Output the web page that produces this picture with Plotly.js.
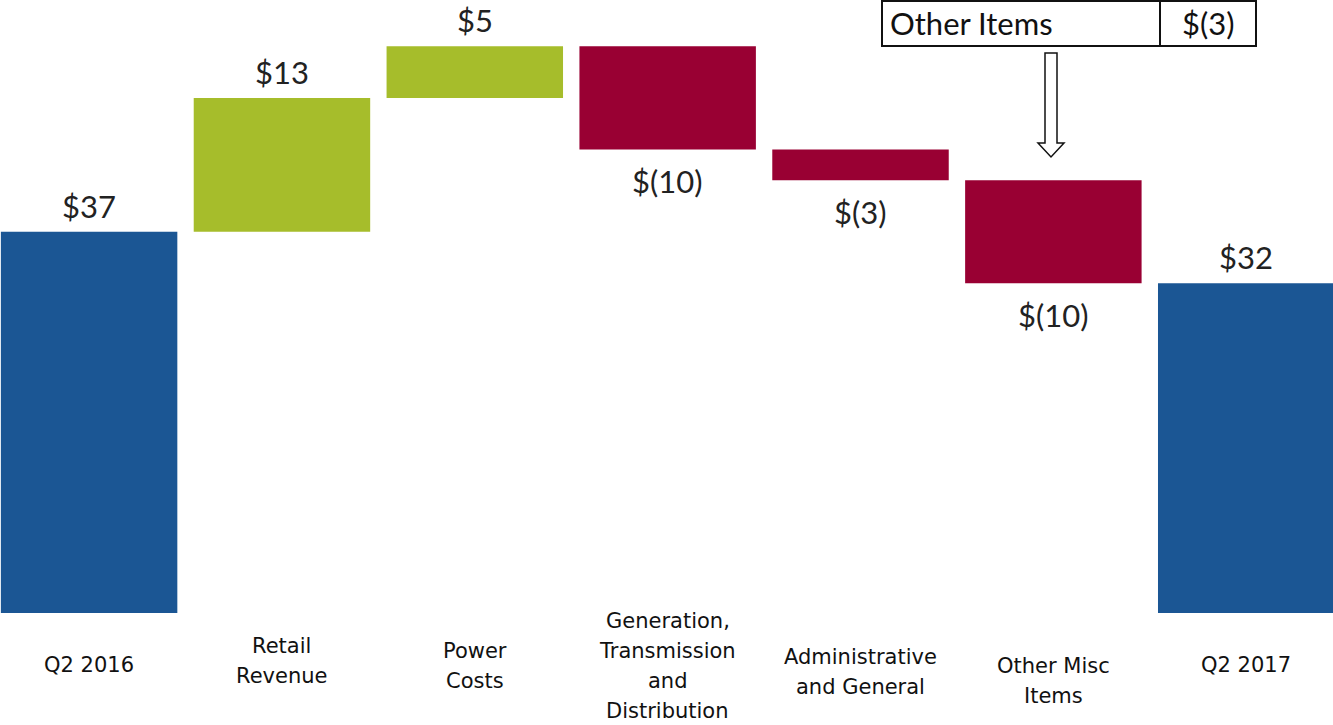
<!DOCTYPE html>
<html>
<head>
<meta charset="utf-8">
<script src="https://cdn.plot.ly/plotly-3.0.1.min.js"></script>
<style>html,body{margin:0;padding:0;background:#fff;}#chart{width:1333px;height:725px;}</style>
</head>
<body>
<div id="chart"></div>
<script>
// ---- data ----
const categories = ["Q2 2016", "Retail Revenue", "Power Costs", "Generation, Transmission and Distribution", "Administrative and General", "Other Misc Items", "Q2 2017"];
const tickLabels = ["Q2 2016", "Retail<br>Revenue", "Power<br>Costs", "Generation,<br>Transmission<br>and<br>Distribution", "Administrative<br>and General", "Other Misc<br>Items", "Q2 2017"];
const measures = ["absolute", "relative", "relative", "relative", "relative", "relative", "total"];
const values = [37, 13, 5, -10, -3, -10, 32];
const valueLabels = ["$37", "$13", "$5", "$(10)", "$(3)", "$(10)", "$32"];
const calloutLabel = "Other Items";
const calloutValue = "$(3)";

// ---- style ----
const W = 1333, H = 725;
const BLUE = "#1b5694", GREEN = "#a6bd2b", RED = "#990033";
const valueFont = {family: "Lato, 'Open Sans', sans-serif", size: 31, color: "#222"};
const catFont = {family: "'DejaVu Sans', Verdana, sans-serif", size: 21, color: "#111"};
const boxFont = {family: "Lato, 'Open Sans', sans-serif", size: 31, color: "#111"};
const labelCentersPx = [665, 661, 666, 666, 672, 681, 665];
const lineStepPx = 30;
const px = x => x / W;
const py = y => 1 - y / H;

// cumulative ends from data
let run = 0;
const ends = values.map((v, i) => {
  if (measures[i] === "absolute") run = v;
  else if (measures[i] === "relative") run += v;
  return run;
});

const trace = {
  type: "waterfall",
  x: categories,
  y: values,
  measure: measures,
  textinfo: "none",
  hoverinfo: "none",
  connector: {visible: false},
  increasing: {marker: {color: GREEN}},
  decreasing: {marker: {color: RED}},
  totals: {marker: {color: BLUE}},
};

const annotations = [];
categories.forEach((c, i) => {
  const neg = measures[i] === "relative" && values[i] < 0;
  annotations.push({
    x: c, y: ends[i], xref: "x", yref: "y",
    text: valueLabels[i], showarrow: false,
    yanchor: "middle", yshift: neg ? -32 : 26,
    font: valueFont
  });
  const lines = tickLabels[i].split("<br>");
  lines.forEach((ln, k) => {
    const cy = labelCentersPx[i] + (k - (lines.length - 1) / 2) * lineStepPx;
    annotations.push({
      x: c, y: py(cy), xref: "x", yref: "paper",
      text: ln, showarrow: false,
      yanchor: "middle", font: catFont
    });
  });
});
annotations.push({
  x: px(888), y: py(23), xref: "paper", yref: "paper", xanchor: "left", yanchor: "middle",
  text: calloutLabel, showarrow: false, font: boxFont
});
annotations.push({
  x: px(1208), y: py(23), xref: "paper", yref: "paper", xanchor: "center", yanchor: "middle",
  text: calloutValue, showarrow: false, font: boxFont
});

const arrowPath = "M" + px(1045) + "," + py(53) +
  " L" + px(1057) + "," + py(53) +
  " L" + px(1057) + "," + py(143) +
  " L" + px(1064) + "," + py(143) +
  " L" + px(1051) + "," + py(157) +
  " L" + px(1038) + "," + py(143) +
  " L" + px(1045) + "," + py(143) + " Z";

const shapes = [
  {type: "rect", xref: "paper", yref: "paper", x0: px(882), x1: px(1256), y0: py(46), y1: py(1),
   line: {color: "#111", width: 2}, fillcolor: "rgba(0,0,0,0)"},
  {type: "line", xref: "paper", yref: "paper", x0: px(1160), x1: px(1160), y0: py(46), y1: py(1),
   line: {color: "#111", width: 2}},
  {type: "path", xref: "paper", yref: "paper", path: arrowPath,
   line: {color: "#111", width: 1.5}, fillcolor: "#fff"}
];

const layout = {
  width: W, height: H,
  margin: {l: 0, r: 0, t: 0, b: 0},
  paper_bgcolor: "#fff", plot_bgcolor: "#fff",
  showlegend: false,
  waterfallgap: 0.085,
  xaxis: {range: [-0.462, 6.45], showticklabels: false, showgrid: false, zeroline: false, showline: false, ticks: ""},
  yaxis: {range: [-10.87, 59.5], showticklabels: false, showgrid: false, zeroline: false, showline: false, ticks: ""},
  annotations: annotations,
  shapes: shapes
};

Plotly.newPlot("chart", [trace], layout, {displayModeBar: false, staticPlot: true});
</script>
</body>
</html>
